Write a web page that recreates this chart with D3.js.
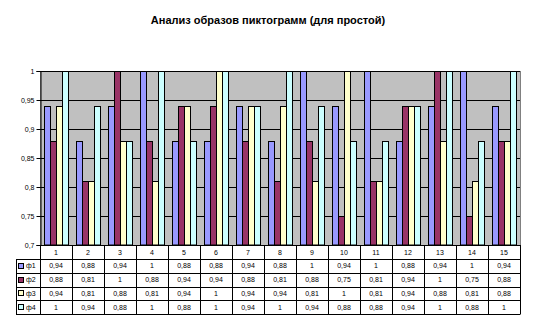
<!DOCTYPE html>
<html>
<head>
<meta charset="utf-8">
<script src="https://cdn.jsdelivr.net/npm/d3@7"></script>
<style>
  html, body { margin: 0; padding: 0; background: #fff; }
  svg { display: block; font-family: "Liberation Sans", Arial, sans-serif; }
</style>
</head>
<body>
<svg id="chart" width="534" height="333"></svg>
<script>
// Categories (pictogram numbers) and series
const categories = ["1","2","3","4","5","6","7","8","9","10","11","12","13","14","15"];
const seriesNames = ["ф1","ф2","ф3","ф4"];
const seriesColors = ["#9999FF","#993366","#FFFFCC","#CCFFFF"];
const s1 = [0.94,0.88,0.94,1,0.88,0.88,0.94,0.88,1,0.94,1,0.88,0.94,1,0.94];
const s2 = [0.88,0.81,1,0.88,0.94,0.94,0.88,0.81,0.88,0.75,0.81,0.94,1,0.75,0.88];
const s3 = [0.94,0.81,0.88,0.81,0.94,1,0.94,0.94,0.81,1,0.81,0.94,0.88,0.81,0.88];
const s4 = [1,0.94,0.88,1,0.88,1,0.94,1,0.94,0.88,0.88,0.94,1,0.88,1];
const yTicks = [0.7,0.75,0.8,0.85,0.9,0.95,1];
const title = "Анализ образов пиктограмм (для простой)";

const series = [s1,s2,s3,s4];

const svg = d3.select("#chart");
const plotL = 40, plotR = 520, plotT = 71, plotB = 245;
const tableLeft = 16, headerH = 14, rowH = 13.75;

const x = d3.scaleBand().domain(categories).range([plotL, plotR]).paddingInner(0).paddingOuter(0);
const xs = d3.scaleBand().domain(d3.range(series.length)).range([0, x.bandwidth()])
  .paddingInner(0).paddingOuter(0.75);
const y = d3.scaleLinear().domain([0.7, 1]).range([plotB, plotT]);
const fmt = v => d3.format("~g")(v).replace(".", ",");

// Title
svg.append("text")
  .attr("x", 268).attr("y", 24)
  .attr("text-anchor", "middle")
  .attr("font-size", 11).attr("font-weight", "bold")
  .text(title);

// Plot area
svg.append("rect")
  .attr("x", plotL + 0.5).attr("y", plotT + 0.5)
  .attr("width", plotR - plotL).attr("height", plotB - plotT)
  .attr("fill", "#C0C0C0").attr("stroke", "#808080").attr("stroke-width", 1);

// Gridlines
svg.append("g").selectAll("line").data(yTicks.filter(t => t > 0.7))
  .join("line")
  .attr("x1", plotL).attr("x2", plotR)
  .attr("y1", d => Math.round(y(d)) + 0.5).attr("y2", d => Math.round(y(d)) + 0.5)
  .attr("stroke", "#000").attr("stroke-width", 1);

// Bars
const groups = svg.append("g").selectAll("g").data(categories).join("g")
  .attr("transform", d => `translate(${x(d)},0)`);
groups.selectAll("rect")
  .data((c, i) => series.map((s, k) => ({ k, v: s[i] })))
  .join("rect")
  .attr("x", d => Math.round(xs(d.k)) + 0.5)
  .attr("y", d => Math.round(y(d.v)) + 0.5)
  .attr("width", d => Math.round(xs(d.k) + xs.bandwidth()) - Math.round(xs(d.k)))
  .attr("height", d => y(0.7) - Math.round(y(d.v)) - 0.5)
  .attr("fill", d => seriesColors[d.k])
  .attr("stroke", "#000").attr("stroke-width", 1);

// Y axis
const yAxis = svg.append("g")
  .attr("transform", `translate(${plotL + 0.5},0)`)
  .call(d3.axisLeft(y).tickValues(yTicks).tickFormat(fmt).tickSize(4).tickPadding(2));
yAxis.selectAll("text").attr("font-size", 7).attr("font-family", "Liberation Sans, Arial, sans-serif").attr("fill", "#000");
yAxis.selectAll("line").attr("stroke", "#000");
yAxis.select(".domain").attr("stroke", "#000");

// Data table
const table = svg.append("g");
const rowTop = plotB + headerH;
const tableBottom = rowTop + rowH * series.length;

// Header labels
table.selectAll("text.cat").data(categories).join("text")
  .attr("class", "cat")
  .attr("x", d => x(d) + x.bandwidth() / 2)
  .attr("y", plotB + headerH / 2 + 2.5)
  .attr("text-anchor", "middle").attr("font-size", 7)
  .text(d => d);

// Horizontal rules
table.append("line").attr("x1", plotL).attr("x2", plotR)
  .attr("y1", plotB + 0.5).attr("y2", plotB + 0.5).attr("stroke", "#000");
d3.range(series.length + 1).forEach(r => {
  const yy = Math.round(rowTop + r * rowH) + 0.5;
  table.append("line").attr("x1", tableLeft).attr("x2", plotR)
    .attr("y1", yy).attr("y2", yy).attr("stroke", "#000");
});
// Vertical rules
categories.concat(["end"]).forEach((c, i) => {
  const xx = Math.round(plotL + i * x.bandwidth()) + 0.5;
  table.append("line").attr("x1", xx).attr("x2", xx)
    .attr("y1", plotB).attr("y2", Math.round(tableBottom) + 0.5).attr("stroke", "#000");
});
table.append("line").attr("x1", tableLeft + 0.5).attr("x2", tableLeft + 0.5)
  .attr("y1", Math.round(rowTop) + 0.5).attr("y2", Math.round(tableBottom) + 0.5).attr("stroke", "#000");

// Rows: legend key, name, values
series.forEach((s, k) => {
  const cy = rowTop + k * rowH + rowH / 2;
  table.append("rect")
    .attr("x", tableLeft + 2.5).attr("y", Math.round(cy - 3) + 0.5)
    .attr("width", 5).attr("height", 5)
    .attr("fill", seriesColors[k]).attr("stroke", "#000").attr("stroke-width", 1);
  table.append("text")
    .attr("x", tableLeft + 10).attr("y", cy + 2.5)
    .attr("font-size", 7).text(seriesNames[k]);
  table.selectAll(null).data(s).join("text")
    .attr("x", (v, i) => x(categories[i]) + x.bandwidth() / 2)
    .attr("y", cy + 2.5)
    .attr("text-anchor", "middle").attr("font-size", 7)
    .text(v => fmt(v));
});
</script>
</body>
</html>
